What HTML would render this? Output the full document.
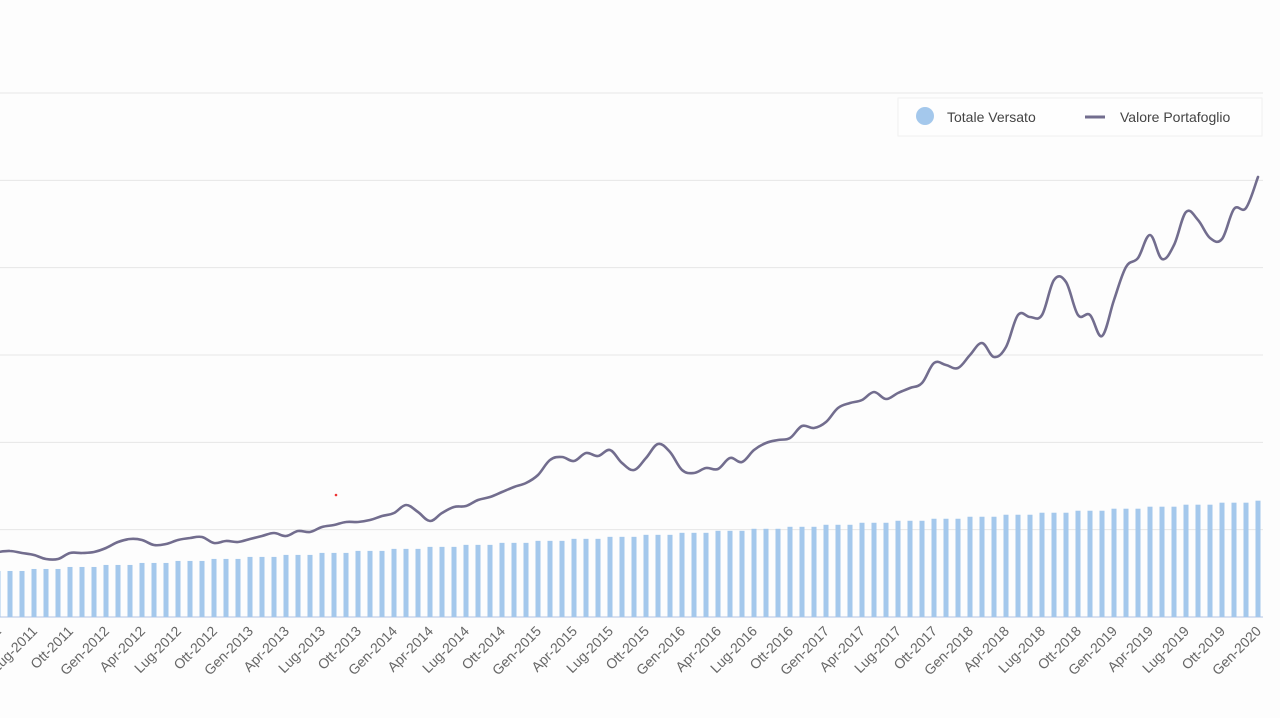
<!DOCTYPE html>
<html><head><meta charset="utf-8"><style>
html,body{margin:0;padding:0;background:#fdfdfd;}
svg{display:block;font-family:"Liberation Sans",sans-serif;}
</style></head><body>
<svg id="chart" width="1280" height="718" viewBox="0 0 1280 718">
<rect x="0" y="0" width="1280" height="718" fill="#fdfdfd"/>
<g id="grid"></g>
<g id="bars"></g>
<path id="line" fill="none" stroke="#726d8e" stroke-width="2.6" stroke-linejoin="round" stroke-linecap="round"/>
<g id="xlabels"></g>
<circle cx="336" cy="495" r="1.3" fill="#e33"/>
<g>
<rect x="898" y="98" width="364" height="38" fill="#fefefe" stroke="#f0f0f0"/>
<g>
<circle cx="925" cy="116" r="9" fill="#a4c8ec"/>
<text x="947" y="122" font-size="14" fill="#444">Totale Versato</text>
</g>
<g>
<line x1="1085" y1="117" x2="1105" y2="117" stroke="#726d8e" stroke-width="3"/>
<text x="1120" y="122" font-size="14" fill="#444">Valore Portafoglio</text>
</g>
</g>
</svg>
<script>
const monthNames = ["Gen","Feb","Mar","Apr","Mag","Giu","Lug","Ago","Set","Ott","Nov","Dic"];
const startYear = 2011;
const startMonth = 3; // Apr
const totaleVersato = [527,527,527,550,550,550,573,573,573,596,596,596,619,619,619,642,642,642,665,665,665,688,688,688,711,711,711,734,734,734,757,757,757,780,780,780,803,803,803,826,826,826,849,849,849,872,872,872,895,895,895,918,918,918,941,941,941,964,964,964,987,987,987,1010,1010,1010,1033,1033,1033,1056,1056,1056,1079,1079,1079,1102,1102,1102,1125,1125,1125,1148,1148,1148,1171,1171,1171,1194,1194,1194,1217,1217,1217,1240,1240,1240,1263,1263,1263,1286,1286,1286,1309,1309,1309,1332];
const valorePortafoglio = [744,756,733,710,664,664,733,733,744,790,859,893,882,824,836,882,905,916,847,870,859,893,927,962,927,985,973,1031,1053,1088,1088,1111,1156,1191,1282,1202,1099,1191,1260,1271,1340,1374,1431,1489,1534,1626,1798,1832,1786,1878,1843,1912,1763,1683,1821,1981,1889,1683,1649,1706,1695,1821,1775,1912,1992,2027,2050,2187,2164,2233,2393,2450,2485,2576,2496,2565,2622,2679,2908,2885,2851,3000,3137,2977,3092,3458,3435,3458,3859,3836,3458,3458,3217,3630,4008,4111,4374,4099,4259,4637,4546,4340,4328,4672,4683,5038];
const yTicks = [0,1000,2000,3000,4000,5000,6000];

const NS = "http://www.w3.org/2000/svg";
const y0 = 617, yTop = 93, yMax = 6000;
const x0 = -2, step = 12;
function xScale(i){ return x0 + i*step; }
function yScale(v){ return y0 - (v / yMax) * (y0 - yTop); }

const grid = document.getElementById('grid');
yTicks.forEach(t => {
  const l = document.createElementNS(NS,'line');
  
  
  l.setAttribute('x1', 0); l.setAttribute('x2', 1263);
  l.setAttribute('y1', yScale(t)); l.setAttribute('y2', yScale(t));
  l.setAttribute('stroke', t === 0 ? '#ccd6eb' : '#e6e6e6');
  l.setAttribute('stroke-width', t === 0 ? 1.5 : 1);
  grid.appendChild(l);
});

const bars = document.getElementById('bars');
totaleVersato.forEach((v, i) => {
  const r = document.createElementNS(NS,'rect');
  
  
  const top = yScale(v);
  r.setAttribute('x', xScale(i) - 2.5);
  r.setAttribute('width', 5);
  r.setAttribute('y', top);
  r.setAttribute('height', y0 - top);
  r.setAttribute('fill', '#a4c8ec');
  bars.appendChild(r);
});

const pts = valorePortafoglio.map((v, i) => [xScale(i), yScale(v)]);
let d = 'M' + pts[0][0] + ',' + pts[0][1];
for (let i = 0; i < pts.length - 1; i++) {
  const p0 = pts[Math.max(0, i-1)], p1 = pts[i], p2 = pts[i+1], p3 = pts[Math.min(pts.length-1, i+2)];
  const t = 0.18;
  const c1x = p1[0] + (p2[0]-p0[0])*t, c1y = p1[1] + (p2[1]-p0[1])*t;
  const c2x = p2[0] - (p3[0]-p1[0])*t, c2y = p2[1] - (p3[1]-p1[1])*t;
  d += ' C' + c1x.toFixed(1) + ',' + c1y.toFixed(1) + ' ' + c2x.toFixed(1) + ',' + c2y.toFixed(1) + ' ' + p2[0] + ',' + p2[1].toFixed(1);
}
document.getElementById('line').setAttribute('d', d);

const xl = document.getElementById('xlabels');
const last = totaleVersato.length - 1;
for (let i = last; i >= 0; i -= 3) {
  const m = (startMonth + i) % 12;
  const yr = startYear + Math.floor((startMonth + i) / 12);
  const x = xScale(i) + 4, y = 632;
  const tx = document.createElementNS(NS,'text');
  
  
  tx.setAttribute('x', x); tx.setAttribute('y', y);
  tx.setAttribute('text-anchor', 'end');
  tx.setAttribute('font-size', '14');
  tx.setAttribute('fill', '#666');
  tx.setAttribute('transform', 'rotate(-45 ' + x + ' ' + y + ')');
  tx.textContent = monthNames[m] + '-' + yr;
  xl.appendChild(tx);
}
</script>
</body></html>
